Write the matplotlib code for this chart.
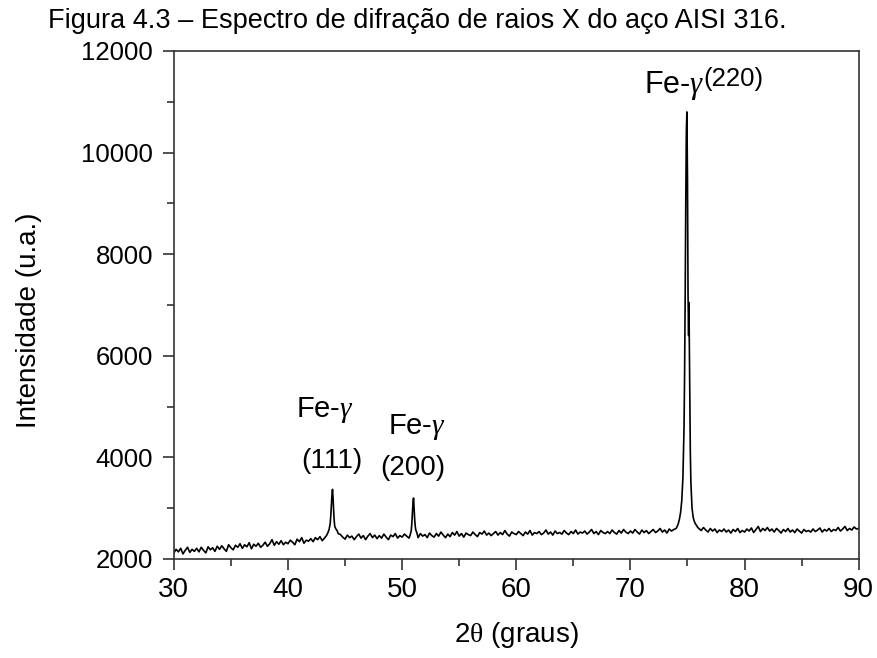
import numpy as np
import matplotlib
matplotlib.use("Agg")
import matplotlib.pyplot as plt
from matplotlib.ticker import MultipleLocator

plt.rcParams["font.family"] = ["Liberation Sans", "DejaVu Sans"]
plt.rcParams["mathtext.fontset"] = "custom"
plt.rcParams["mathtext.rm"] = "Liberation Serif"
plt.rcParams["mathtext.it"] = "Liberation Serif:italic"

# fundo (ruido) lido a cada 0.2 grau, de 30 a 90
passo = 0.2
fundo = [
    2120, 2190, 2140, 2210, 2100, 2170, 2230, 2130, 2190, 2150,
    2210, 2140, 2230, 2170, 2120, 2240, 2180, 2220, 2150, 2250,
    2190, 2260, 2200, 2150, 2280, 2220, 2180, 2270, 2230, 2300,
    2210, 2280, 2240, 2320, 2200, 2290, 2250, 2310, 2230, 2270,
    2330, 2250, 2300, 2380, 2270, 2340, 2290, 2360, 2280, 2330,
    2300, 2370, 2330, 2280, 2390, 2340, 2420, 2310, 2370, 2350,
    2400, 2340, 2420, 2380, 2440, 2360, 2410, 2450, 2400, 2430,
    2420, 2460, 2400, 2480, 2430, 2390, 2470, 2420, 2450, 2380,
    2440, 2490, 2410, 2460, 2380, 2450, 2500, 2420, 2470, 2400,
    2460, 2410, 2490, 2430, 2380, 2470, 2440, 2500, 2410, 2460,
    2430, 2490, 2450, 2410, 2480, 2440, 2470, 2420, 2500, 2450,
    2480, 2420, 2510, 2460, 2430, 2500, 2450, 2530, 2470, 2420,
    2490, 2440, 2520, 2470, 2540, 2450, 2500, 2430, 2510, 2480,
    2460, 2530, 2480, 2440, 2520, 2490, 2550, 2470, 2510, 2460,
    2500, 2540, 2470, 2520, 2480, 2560, 2490, 2450, 2530, 2500,
    2480, 2540, 2500, 2460, 2530, 2490, 2560, 2470, 2520, 2500,
    2540, 2480, 2510, 2570, 2490, 2530, 2470, 2550, 2500, 2520,
    2490, 2560, 2510, 2480, 2540, 2500, 2570, 2490, 2530, 2510,
    2550, 2490, 2530, 2580, 2500, 2540, 2480, 2560, 2520, 2500,
    2540, 2500, 2570, 2520, 2490, 2560, 2510, 2580, 2530, 2500,
    2550, 2510, 2580, 2530, 2490, 2570, 2520, 2560, 2500, 2540,
    2580, 2520, 2550, 2600, 2530, 2570, 2510, 2590, 2550, 2580,
    2600, 2620, 2650, 2700, 2800, 2900, 2750, 2680, 2640, 2610,
    2600, 2560, 2620, 2570, 2530, 2600, 2550, 2590, 2520, 2570,
    2540, 2590, 2530, 2570, 2510, 2580, 2540, 2600, 2520, 2560,
    2530, 2590, 2550, 2610, 2520, 2580, 2640, 2540, 2600, 2560,
    2620, 2550, 2590, 2530, 2600, 2560, 2510, 2580, 2540, 2600,
    2530, 2570, 2520, 2590, 2550, 2510, 2580, 2540, 2560, 2530,
    2590, 2540, 2570, 2610, 2530, 2580, 2550, 2600, 2540, 2580,
    2560, 2620, 2550, 2590, 2640, 2560, 2600, 2570, 2630, 2590,
    2600,
]

# picos Fe-gamma (111), (200), (220)
pico111_x = [43.4, 43.5, 43.6, 43.7, 43.75, 43.8, 43.85, 43.9, 43.95, 44.0,
             44.05, 44.1, 44.2, 44.3, 44.4]
pico111_y = [2470, 2520, 2580, 2700, 2850, 3050, 3250, 3370, 3200, 2950,
             2750, 2640, 2590, 2560, 2500]
pico200_x = [50.7, 50.8, 50.85, 50.9, 50.95, 51.0, 51.05, 51.1, 51.15, 51.2, 51.3]
pico200_y = [2470, 2560, 2700, 2900, 3100, 3200, 3000, 2780, 2640, 2570, 2510]
pico220_x = [74.1, 74.2, 74.3, 74.4, 74.5, 74.6, 74.7, 74.75, 74.8, 74.85,
             74.9, 74.95, 75.0, 75.05, 75.1, 75.13, 75.16, 75.2, 75.25, 75.3,
             75.4, 75.5, 75.6, 75.7, 75.8, 75.9]
pico220_y = [2640, 2700, 2790, 2920, 3150, 3600, 4600, 5700, 7200, 9000,
             10400, 10800, 9500, 7200, 6400, 7050, 6300, 5200, 4100, 3500,
             3000, 2820, 2740, 2690, 2660, 2620]

picos = [(pico111_x, pico111_y), (pico200_x, pico200_y), (pico220_x, pico220_y)]

# junta fundo e picos
x_fundo = 30 + passo * np.arange(len(fundo))
y_fundo = np.array(fundo, dtype=float)
manter = np.ones(len(x_fundo), dtype=bool)
for px, py in picos:
    manter &= ~((x_fundo >= px[0]) & (x_fundo <= px[-1]))
x_tot = np.concatenate([x_fundo[manter]] + [np.array(px) for px, py in picos])
y_tot = np.concatenate([y_fundo[manter]] + [np.array(py, dtype=float) for px, py in picos])
ordem = np.argsort(x_tot)
x_tot = x_tot[ordem]
y_tot = y_tot[ordem]

fig = plt.figure(figsize=(8.78, 6.58), dpi=100)
ax = fig.add_axes([0.198, 0.1505, 0.78, 0.772])

ax.plot(x_tot, y_tot, color="black", linewidth=1.2)

ax.set_xlim(30, 90)
ax.set_ylim(2000, 12000)
ax.xaxis.set_major_locator(MultipleLocator(10))
ax.xaxis.set_minor_locator(MultipleLocator(5))
ax.yaxis.set_major_locator(MultipleLocator(2000))
ax.yaxis.set_minor_locator(MultipleLocator(1000))
ax.tick_params(which="major", direction="out", length=8, width=1.2, color="#333333")
ax.tick_params(which="minor", direction="out", length=5, width=1.2, color="#333333")
ax.tick_params(axis="x", labelsize=20, pad=5)
ax.tick_params(axis="y", labelsize=18.5, pad=7)
for s in ax.spines.values():
    s.set_linewidth(1.2)
    s.set_color("#333333")

ax.set_xlabel(r"2$\mathrm{\theta}$ (graus)", fontsize=20, labelpad=12)
ax.set_ylabel("Intensidade (u.a.)", fontsize=20)
ax.yaxis.set_label_coords(-0.193, 0.47)

fig.text(0.055, 0.958, "Figura 4.3 – Espectro de difração de raios X do aço AISI 316.",
         ha="left", va="baseline", fontsize=19.5)

# rotulos dos picos
ax.text(43.2, 4800, r"Fe-$\gamma$", fontsize=21, ha="center", va="baseline")
ax.text(43.87, 3790, "(111)", fontsize=20, ha="center", va="baseline")
ax.text(51.3, 4470, r"Fe-$\gamma$", fontsize=21, ha="center", va="baseline")
ax.text(50.95, 3655, "(200)", fontsize=20, ha="center", va="baseline")
ax.text(73.8, 11170, r"Fe-$\gamma$", fontsize=22, ha="center", va="baseline")
ax.text(76.4, 11320, "(220)", fontsize=18.5, ha="left", va="baseline")

fig.savefig("out.png", dpi=100)
